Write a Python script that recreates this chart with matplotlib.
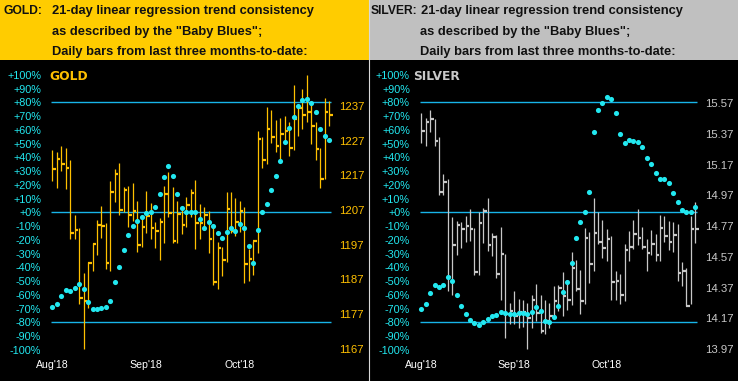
import matplotlib
matplotlib.use("Agg")
import matplotlib.pyplot as plt
from matplotlib.patches import Rectangle
from matplotlib.lines import Line2D

# ---------------- DATA ----------------
month_labels = ["Aug'18", "Sep'18", "Oct'18"]
month_pos = [0, 21, 42]

pct_ticks = list(range(-100, 101, 10))
pct_labels = [("+%d%%" % v) if v >= 0 else ("%d%%" % v) for v in pct_ticks]
ref_levels = [80, 0, -80]

gold_price_ticks = [1167, 1177, 1187, 1197, 1207, 1217, 1227, 1237]
silver_price_ticks = [13.97, 14.17, 14.37, 14.57, 14.77, 14.97, 15.17, 15.37, 15.57]

gold_high = [1224.3, 1223.6, 1225.4, 1224.9, 1221.4, 1205.6, 1201.8, 1188.8, 1191.9, 1197.4,
             1204.1, 1208.2, 1203.3, 1215.4, 1218.8, 1220.5, 1213.6, 1213.9, 1214.8, 1209.6,
             1204.6, 1212.5, 1209.0, 1203.5, 1204.7, 1213.9, 1218.0, 1213.6, 1209.6, 1207.9,
             1210.7, 1213.1, 1215.6, 1208.7, 1207.9, 1206.7, 1202.2, 1197.9, 1196.4, 1212.2,
             1212.2, 1210.5, 1209.6, 1207.9, 1195.9, 1198.2, 1229.8, 1228.0, 1236.7, 1235.8,
             1232.9, 1233.5, 1234.1, 1232.4, 1243.0, 1237.3, 1241.9, 1245.9, 1238.1, 1232.4,
             1224.9, 1239.3, 1238.4]
gold_low = [1215.4, 1213.4, 1218.2, 1213.1, 1198.5, 1198.6, 1180.0, 1166.9, 1178.7, 1189.5,
            1194.0, 1199.0, 1190.1, 1189.4, 1209.4, 1205.6, 1206.5, 1202.1, 1203.8, 1195.0,
            1196.4, 1200.5, 1198.7, 1196.1, 1192.7, 1197.6, 1205.1, 1197.6, 1197.6, 1200.2,
            1202.2, 1205.1, 1195.9, 1198.5, 1201.3, 1194.7, 1185.5, 1184.3, 1188.1, 1192.1,
            1200.5, 1199.6, 1200.8, 1186.1, 1186.6, 1188.4, 1194.7, 1219.2, 1220.4, 1226.4,
            1223.8, 1221.5, 1226.7, 1222.7, 1224.4, 1228.4, 1230.4, 1232.5, 1226.1, 1221.5,
            1213.4, 1216.0, 1231.3]
gold_close = [1218.8, 1221.7, 1220.2, 1219.2, 1200.5, 1201.1, 1181.7, 1180.9, 1191.8, 1197.2,
              1202.8, 1202.5, 1191.8, 1212.3, 1217.5, 1207.0, 1212.9, 1205.6, 1206.8, 1196.9,
              1202.2, 1205.4, 1201.9, 1201.0, 1203.6, 1211.7, 1206.2, 1198.2, 1205.9, 1202.8,
              1208.5, 1212.0, 1203.3, 1203.3, 1205.7, 1198.5, 1186.3, 1196.1, 1192.7, 1207.4,
              1201.0, 1203.6, 1206.8, 1191.5, 1193.0, 1198.2, 1227.6, 1221.4, 1230.4, 1228.1,
              1225.5, 1229.0, 1229.9, 1225.0, 1233.3, 1236.5, 1234.5, 1235.3, 1231.3, 1224.7,
              1216.0, 1235.3, 1234.5]
gold_blues = [-68.8, -66.7, -60.6, -56.5, -57.2, -55.0, -52.1, -55.8, -65.2, -70.3,
              -70.3, -69.6, -68.8, -64.5, -50.7, -39.8, -27.4, -16.5, -9.9, -6.1,
              -3.4, -0.2, 0.5, 3.9, 13.6, 25.7, 33.9, 26.7, 13.6, 3.4,
              0.5, 0.5, 0.5, -4.6, -11.2, -6.8, -9.7, -14.8, -18.4, -14.1,
              -11.2, -13.3, -8.2, -11.2, -24.2, -36.6, -12.6, 0.5, 6.3, 16.5,
              26.7, 37.6, 51.4, 61.6, 69.6, 77.6, 81.9, 82.7, 79.8, 73.2,
              60.8, 55.8, 52.8]

silver_high = [15.505, 15.472, 15.524, 15.466, 15.351, 15.110, 15.077, 14.828, 14.802, 14.795,
               14.834, 14.880, 14.756, 14.860, 14.886, 14.952, 14.728, 14.711, 14.763, 14.591,
               14.270, 14.346, 14.298, 14.290, 14.272, 14.322, 14.394, 14.322, 14.287, 14.268,
               14.381, 14.387, 14.472, 14.420, 14.602, 14.550, 14.485, 14.758, 14.732, 14.954,
               14.863, 14.810, 14.754, 14.706, 14.478, 14.459, 14.654, 14.739, 14.810, 14.882,
               14.765, 14.687, 14.745, 14.719, 14.843, 14.836, 14.804, 14.797, 14.784, 14.537,
               14.498, 14.836, 14.928]
silver_low = [15.314, 15.294, 15.386, 15.294, 14.975, 14.975, 14.350, 14.324, 14.585, 14.630,
              14.669, 14.676, 14.455, 14.455, 14.663, 14.611, 14.578, 14.435, 14.292, 14.044,
              14.136, 14.136, 14.110, 14.116, 13.973, 14.110, 14.155, 14.077, 14.070, 14.110,
              14.188, 14.220, 14.188, 14.227, 14.259, 14.350, 14.201, 14.266, 14.402, 14.481,
              14.656, 14.565, 14.546, 14.292, 14.292, 14.266, 14.285, 14.546, 14.624, 14.650,
              14.624, 14.481, 14.585, 14.546, 14.546, 14.669, 14.617, 14.604, 14.415, 14.383,
              14.253, 14.266, 14.663]
silver_close = [15.390, 15.446, 15.466, 15.323, 14.993, 15.060, 14.442, 14.650, 14.776, 14.750,
                14.774, 14.750, 14.474, 14.793, 14.867, 14.650, 14.702, 14.461, 14.591, 14.196,
                14.220, 14.188, 14.214, 14.214, 14.175, 14.292, 14.207, 14.090, 14.155, 14.188,
                14.285, 14.366, 14.318, 14.292, 14.500, 14.363, 14.285, 14.695, 14.526, 14.728,
                14.669, 14.630, 14.689, 14.409, 14.415, 14.324, 14.617, 14.637, 14.721, 14.695,
                14.637, 14.598, 14.656, 14.585, 14.761, 14.708, 14.669, 14.715, 14.468, 14.481,
                14.253, 14.754, 14.754]
silver_blues = [-70.3, -66.7, -58.7, -52.8, -54.3, -52.8, -47.0, -49.9, -60.1, -68.1,
                -73.9, -78.3, -80.5, -81.9, -79.8, -77.6, -75.4, -74.7, -72.5, -73.2,
                -73.9, -73.9, -73.2, -73.2, -73.9, -72.5, -68.8, -71.8, -79.0, -79.8,
                -76.1, -68.1, -57.9, -50.7, -36.8, -18.7, -6.8, 0.5, 14.8, 58.7,
                74.4, 79.5, 83.9, 82.4, 72.2, 57.0, 50.4, 52.6, 51.9, 51.2,
                47.5, 39.5, 35.2, 28.6, 24.2, 24.2, 21.3, 14.1, 7.5, 1.7,
                0.2, 0.2, 3.9]

# ---------------- STYLE ----------------
W, H = 738, 381
GOLD_C = '#FFC000'
SILV_C = '#C8C8C8'
CYAN = '#22E8F0'
LINE_C = '#18B4E8'
FONT = 'Liberation Sans'

fig = plt.figure(figsize=(W / 100, H / 100), dpi=100, facecolor='black')


def fx(x):
    return x / W


def fy(y):
    return 1 - y / H


# headers
fig.add_artist(Rectangle((0, fy(60)), fx(369), 60 / H, transform=fig.transFigure,
                         facecolor='#FFCC00', edgecolor='none'))
fig.add_artist(Rectangle((fx(369), fy(60)), fx(W - 369), 60 / H, transform=fig.transFigure,
                         facecolor='#C0C0C0', edgecolor='none'))
fig.add_artist(Line2D([fx(368.5), fx(368.5)], [0, 1], transform=fig.transFigure,
                      color='#D8D8D8', lw=0.8))

hdr = dict(fontsize=9.3, fontweight='bold', family=FONT, color='#111111', va='baseline')
hdr_name = dict(hdr, fontsize=8.7)
fig.text(fx(4), fy(14), "GOLD:", **hdr_name)
fig.text(fx(52), fy(14), "21-day linear regression trend consistency", **hdr)
fig.text(fx(52), fy(34.5), 'as described by the "Baby Blues";', **hdr)
fig.text(fx(52), fy(54.5), "Daily bars from last three months-to-date:", **hdr)
fig.text(fx(371), fy(14), "SILVER:", **hdr_name)
fig.text(fx(421), fy(14), "21-day linear regression trend consistency", **hdr)
fig.text(fx(420), fy(34.5), 'as described by the "Baby Blues";', **hdr)
fig.text(fx(420), fy(54.5), "Daily bars from last three months-to-date:", **hdr)


def panel(x0, x1, name, name_x, color, highs, lows, closes, blues,
          pticks, pfmt, plim, xlim):
    y0, y1 = 66, 354
    ax = fig.add_axes([fx(x0), fy(y1), fx(x1 - x0), (y1 - y0) / H])
    ax.set_facecolor('black')
    ax.set_xlim(*xlim)
    ax.set_ylim(-103.05, 106.4)
    for s in ax.spines.values():
        s.set_visible(False)
    n = len(highs)
    ax.hlines(ref_levels, -0.3, n - 0.6, colors=LINE_C, lw=1.0)
    ax.set_yticks(pct_ticks)
    ax.set_yticklabels(pct_labels)
    ax.tick_params(axis='y', length=0, pad=3.6, labelsize=7.8, labelcolor=CYAN)
    ax.set_xticks(month_pos)
    ax.set_xticklabels(month_labels)
    ax.tick_params(axis='x', length=0, pad=4.5, labelsize=7.6, labelcolor='white')
    for lab in ax.get_xticklabels() + ax.get_yticklabels():
        lab.set_family(FONT)

    axp = ax.twinx()
    axp.set_ylim(*plim)
    axp.set_xlim(*xlim)
    for s in axp.spines.values():
        s.set_visible(False)
    xs = list(range(n))
    axp.vlines(xs, lows, highs, colors=color, lw=0.9)
    axp.hlines(closes, xs, [x + 0.8 for x in xs], colors=color, lw=1.6)
    axp.set_yticks(pticks)
    axp.set_yticklabels([pfmt % v for v in pticks])
    axp.tick_params(axis='y', length=0, pad=3.6, labelsize=8.2, labelcolor=color)
    for lab in axp.get_yticklabels():
        lab.set_family(FONT)

    axd = ax.twinx()
    axd.set_ylim(ax.get_ylim())
    axd.set_xlim(*xlim)
    axd.set_yticks([])
    for s in axd.spines.values():
        s.set_visible(False)
    axd.plot(xs, blues, 'o', color=CYAN, ms=3.7, mec='none')

    fig.text(fx(name_x), fy(76), name, color=color, fontsize=8.8, fontweight='bold',
             family='DejaVu Sans', va='center')


panel(46, 334, "GOLD", 49, GOLD_C, gold_high, gold_low, gold_close, gold_blues,
      gold_price_ticks, '%d', (1165.5, 1248.5), (-1.41, 63.06))
panel(415, 700, "SILVER", 413, SILV_C, silver_high, silver_low, silver_close, silver_blues,
      silver_price_ticks, '%.2f', (13.938, 15.813), (-1.43, 63.07))

fig.savefig('out.png', dpi=100, facecolor='black')
